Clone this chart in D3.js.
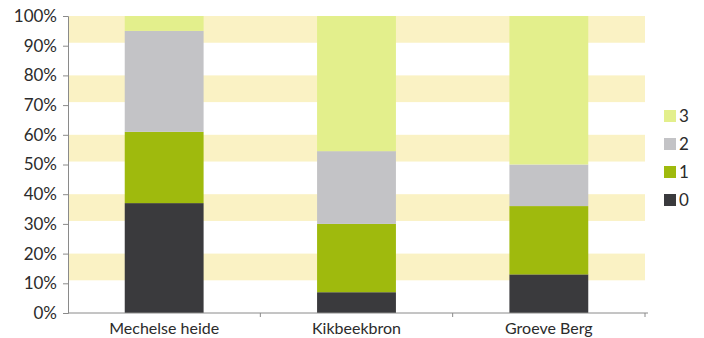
<!DOCTYPE html>
<html>
<head>
<meta charset="utf-8">
<script src="https://cdn.jsdelivr.net/npm/d3@7"></script>
<style>
  body { margin: 0; background: #fff; }
  text { font-family: Lato, "Open Sans", sans-serif; fill: #2b2b2b; }
</style>
</head>
<body>
<div id="root"></div>
<script>
// data (percent of each site)
const sites = ["Mechelse heide", "Kikbeekbron", "Groeve Berg"];
const classes = ["0", "1", "2", "3"];
const class0 = [37, 7, 13];
const class1 = [24, 23, 23];
const class2 = [34, 24.5, 14];
const class3 = [5, 45.5, 50];
const yTicks = [0, 10, 20, 30, 40, 50, 60, 70, 80, 90, 100];
const bandStarts = [100, 80, 60, 40, 20];

const colors = { "0": "#3a3a3d", "1": "#9fba0d", "2": "#c3c3c6", "3": "#e3ef8c" };

const w = 704, h = 338;
const margin = { left: 68, right: 59, top: 16, bottom: 25 };

const svg = d3.select("#root").append("svg")
  .attr("width", w).attr("height", h);

const x = d3.scaleBand()
  .domain(sites)
  .range([margin.left, w - margin.right])
  .paddingInner(0.59)
  .paddingOuter(0.295);

const y = d3.scaleLinear()
  .domain([0, 100])
  .range([h - margin.bottom, margin.top]);

// table for the stack
const table = sites.map((s, i) => ({
  site: s, "0": class0[i], "1": class1[i], "2": class2[i], "3": class3[i]
}));
const series = d3.stack().keys(classes)(table);

// background bands
svg.append("g").selectAll("rect")
  .data(bandStarts)
  .enter().append("rect")
  .attr("x", margin.left + 1)
  .attr("y", d => y(d))
  .attr("width", w - margin.right - margin.left - 1)
  .attr("height", d => y(d - 9) - y(d))
  .attr("fill", "#faf2c4");

// bars
svg.append("g").selectAll("g")
  .data(series)
  .enter().append("g")
  .attr("fill", d => colors[d.key])
  .selectAll("rect")
  .data(d => d)
  .enter().append("rect")
  .attr("x", d => x(d.data.site))
  .attr("y", d => y(d[1]))
  .attr("height", d => y(d[0]) - y(d[1]))
  .attr("width", x.bandwidth());

// y axis
const yAxis = svg.append("g")
  .attr("transform", `translate(${margin.left},0)`)
  .call(d3.axisLeft(y).tickValues(yTicks).tickFormat(d => d + "%").tickSize(5).tickPadding(6));
yAxis.selectAll("path, line").attr("stroke", "#8a8a8a");
yAxis.selectAll("text").style("font-size", "17px").attr("fill", "#2b2b2b");

// x axis: baseline with ticks at category boundaries
const step = x.step();
const xg = svg.append("g");
xg.append("line")
  .attr("x1", margin.left).attr("x2", w - margin.right + 3)
  .attr("y1", y(0)).attr("y2", y(0))
  .attr("stroke", "#8a8a8a");
xg.selectAll(".tk")
  .data(sites)
  .enter().append("line")
  .attr("x1", (d, i) => margin.left + step * (i + 1))
  .attr("x2", (d, i) => margin.left + step * (i + 1))
  .attr("y1", y(0)).attr("y2", y(0) + 4)
  .attr("stroke", "#8a8a8a");
xg.selectAll("text")
  .data(sites)
  .enter().append("text")
  .attr("x", d => x(d) + x.bandwidth() / 2)
  .attr("y", h - 4)
  .attr("text-anchor", "middle")
  .style("font-size", "16px")
  .text(d => d);

// legend
const legend = svg.append("g").attr("transform", "translate(664,110)");
classes.slice().reverse().forEach((c, i) => {
  legend.append("rect")
    .attr("x", 0).attr("y", i * 28)
    .attr("width", 12).attr("height", 12)
    .attr("fill", colors[c]);
  legend.append("text")
    .attr("x", 15).attr("y", i * 28 + 12)
    .style("font-size", "17px")
    .text(c);
});
</script>
</body>
</html>
